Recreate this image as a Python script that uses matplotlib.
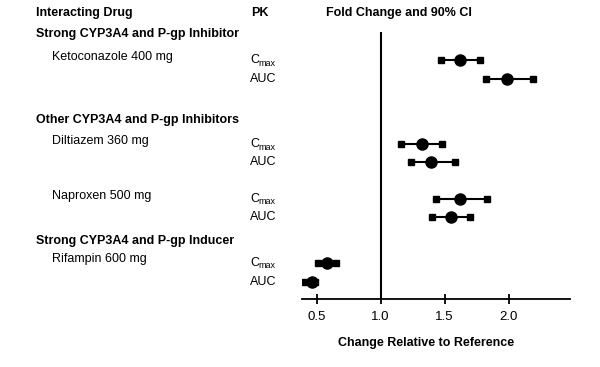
import numpy as np
import matplotlib
matplotlib.use('Agg')
import matplotlib.pyplot as plt

plt.rcParams['font.family'] = ['Liberation Sans Narrow', 'Liberation Sans', 'DejaVu Sans']

# Data
groups = ['Strong CYP3A4 and P-gp Inhibitor', 'Other CYP3A4 and P-gp Inhibitors',
          'Strong CYP3A4 and P-gp Inducer']
drugs = ['Ketoconazole 400 mg', 'Diltiazem 360 mg', 'Naproxen 500 mg', 'Rifampin 600 mg']
pk_params = ['Cmax', 'AUC']
estimate = [1.62, 1.99, 1.32, 1.39, 1.62, 1.55, 0.58, 0.46]
ci_low = [1.47, 1.82, 1.16, 1.24, 1.43, 1.40, 0.51, 0.41]
ci_high = [1.78, 2.19, 1.48, 1.58, 1.83, 1.70, 0.65, 0.49]
xticks = [0.5, 1.0, 1.5, 2.0]

# layout (pixel rows from top of the 600x367 image)
W, H = 600, 367
row_y = [60, 79, 144, 162, 199, 217, 263, 282]
group_y = [34, 120, 241]
drug_y = [57, 141, 196, 259]
axis_px = (301.7, 570, 299)  # left, right, bottom
fs = 9

fig = plt.figure(figsize=(6, 3.67), dpi=100)
ax = fig.add_axes([axis_px[0] / W, (H - axis_px[2]) / H,
                   (axis_px[1] - axis_px[0]) / W, axis_px[2] / H])
ax.set_xlim(0.383, 2.48)
ax.set_ylim(axis_px[2], 0)

for s in ['top', 'right', 'left']:
    ax.spines[s].set_visible(False)
ax.spines['bottom'].set_linewidth(1.3)
ax.set_yticks([])
ax.set_xticks(xticks)
ax.set_xticklabels(['%.1f' % t for t in xticks], fontsize=fs + 0.5)
ax.tick_params(axis='x', direction='inout', length=7, width=1.3, pad=5)

ax.vlines(1.0, 32, axis_px[2], color='black', lw=1.5)

for y, e, lo, hi in zip(row_y, estimate, ci_low, ci_high):
    ax.plot([lo, hi], [y, y], color='black', lw=1.5, marker='s', markersize=4.5)
    ax.plot(e, y, 'o', color='black', markersize=8)

def ftext(x, y, s, **kw):
    fig.text(x / W, 1 - y / H, s, va='center', ha='left', **kw)

ftext(36, 13, 'Interacting Drug', fontsize=fs, fontweight='bold')
ftext(251, 13, 'PK', fontsize=fs, fontweight='bold')
ftext(326, 13, 'Fold Change and 90% CI', fontsize=fs, fontweight='bold')

for g, y in zip(groups, group_y):
    ftext(36, y, g, fontsize=fs, fontweight='bold')
for d, y in zip(drugs, drug_y):
    ftext(52, y, d, fontsize=fs)

for i, y in enumerate(row_y):
    p = pk_params[i % 2]
    if p == 'Cmax':
        ftext(250, y, 'C', fontsize=fs)
        ftext(258, y + 3, 'max', fontsize=6.5)
    else:
        ftext(250, y, p, fontsize=fs)

fig.text(426 / W, 1 - 343 / H, 'Change Relative to Reference', ha='center', va='center',
         fontsize=fs, fontweight='bold')

fig.savefig('out.png', dpi=100)
